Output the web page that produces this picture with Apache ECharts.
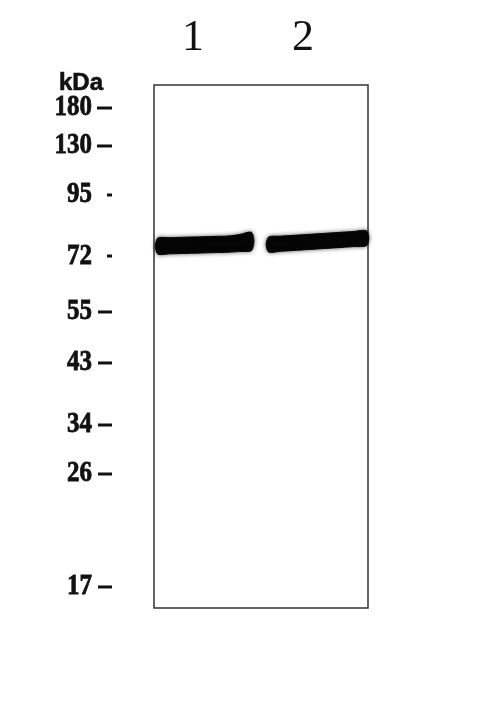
<!DOCTYPE html>
<html>
<head>
<meta charset="utf-8">
<script src="https://cdn.jsdelivr.net/npm/echarts@6/dist/echarts.min.js"></script>
<style>
  html, body { margin: 0; padding: 0; background: #fff; }
  #chart { width: 500px; height: 703px; }
</style>
</head>
<body>
<div id="chart"></div>
<script>
// marker ladder: kDa and migration (% of membrane height, from top)
var markerLabels = ['180', '130', '95', '72', '55', '43', '34', '26', '17'];
var markerPos = [4.4, 11.66, 21.03, 32.7, 43.4, 53.15, 65.01, 74.38, 95.98];
var markerDash = [15, 15, 5, 5, 14, 14, 14, 14, 14];

// lanes
var laneNames = ['1', '2'];
var laneLabelX = [18.2, 69.6];
// band: [x start, x end, y at left, y at right, thickness] (membrane %)
var bandLane1 = [1.8, 45.5, 30.8, 30.3, 3.1];
var bandLane2 = [53.6, 99.2, 30.5, 29.3, 2.9];

var chart = echarts.init(document.getElementById('chart'));

function bandShape(params, api) {
    var b = params.dataIndex === 0 ? bandLane1 : bandLane2;
    var half = b[4] / 2;
    var n = 8;
    var top = [], bottom = [];
    for (var i = 0; i <= n; i++) {
        var t = i / n;
        var x = b[0] + (b[1] - b[0]) * t;
        var y = b[2] + (b[3] - b[2]) * t;
        // lane 1 lifts a little at its right end
        var curl = (params.dataIndex === 0 && t > 0.8) ? (t - 0.8) * 3 : 0;
        top.push(api.coord([x, y - half - curl]));
        bottom.unshift(api.coord([x, y + half - curl * 0.3]));
    }
    var capL = api.coord([b[0] - 1.2, b[2]]);
    var capR = api.coord([b[1] + 1.2, b[3] - (params.dataIndex === 0 ? 0.5 : 0)]);
    return {
        type: 'polygon',
        shape: { points: [capL].concat(top, [capR], bottom), smooth: 0.25 },
        style: {
            fill: '#050505',
            stroke: '#050505',
            lineWidth: 1,
            shadowBlur: 4,
            shadowColor: 'rgba(0,0,0,0.55)'
        }
    };
}

chart.setOption({
    animation: false,
    title: {
        text: 'kDa',
        left: 54,
        top: 66,
        textStyle: {
            fontFamily: 'Liberation Sans',
            fontWeight: 'bold',
            fontSize: 24,
            color: '#111',
            textBorderColor: '#111',
            textBorderWidth: 0.6
        }
    },
    grid: {
        left: 154,
        top: 85,
        width: 214,
        height: 523,
        show: true,
        borderColor: '#333',
        borderWidth: 1.5,
        backgroundColor: '#fff'
    },
    xAxis: { type: 'value', min: 0, max: 100, show: false },
    yAxis: { type: 'value', min: 0, max: 100, inverse: true, show: false },
    series: [
        {
            type: 'custom',
            name: 'bands',
            data: [[0], [1]],
            renderItem: bandShape
        },
        {
            type: 'custom',
            name: 'markers',
            data: markerPos.map(function (p, i) { return [0, p, i]; }),
            renderItem: function (params, api) {
                var i = api.value(2);
                var pt = api.coord([0, api.value(1)]);
                var len = markerDash[i];
                return {
                    type: 'group',
                    children: [
                        {
                            type: 'text',
                            x: 92,
                            y: pt[1],
                            scaleX: 0.86,
                            style: {
                                text: markerLabels[i],
                                align: 'right',
                                verticalAlign: 'middle',
                                fontFamily: 'Liberation Serif',
                                fontWeight: 'bold',
                                fontSize: 29,
                                fill: '#111',
                                stroke: '#111',
                                lineWidth: 0.8
                            }
                        },
                        {
                            type: 'line',
                            shape: { x1: 112 - len, y1: pt[1], x2: 112, y2: pt[1] },
                            style: { stroke: '#111', lineWidth: 3 }
                        }
                    ]
                };
            }
        },
        {
            type: 'custom',
            name: 'lanes',
            data: laneLabelX.map(function (x, i) { return [x, -8.9, i]; }),
            renderItem: function (params, api) {
                var pt = api.coord([api.value(0), api.value(1)]);
                return {
                    type: 'text',
                    x: pt[0],
                    y: pt[1],
                    style: {
                        text: laneNames[api.value(2)],
                        align: 'center',
                        verticalAlign: 'middle',
                        fontFamily: 'Liberation Serif',
                        fontSize: 44,
                        fill: '#111'
                    }
                };
            }
        }
    ]
});
</script>
</body>
</html>
